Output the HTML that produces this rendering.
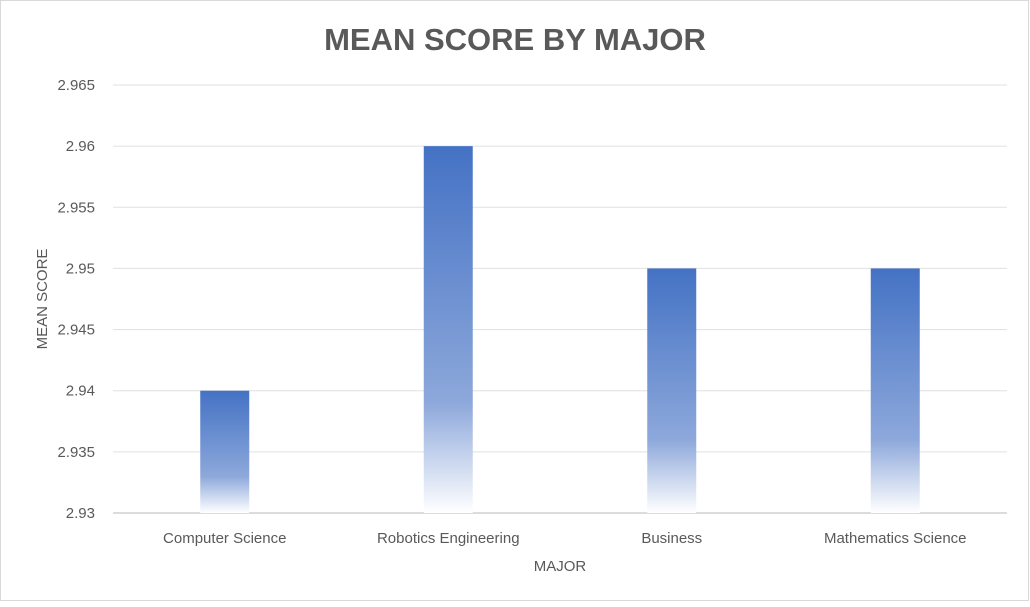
<!DOCTYPE html>
<html><head><meta charset="utf-8"><style>
html,body{margin:0;padding:0;background:#fff;}
body{width:1030px;height:602px;overflow:hidden;font-family:"Liberation Sans",sans-serif;}
</style></head><body>
<svg width="1030" height="602" xmlns="http://www.w3.org/2000/svg">
<defs>
<linearGradient id="g" x1="0" y1="0" x2="0" y2="1">
<stop offset="0" stop-color="#4472C4"/>
<stop offset="0.7" stop-color="#8DA8DB"/>
<stop offset="1" stop-color="#FFFFFF"/>
</linearGradient>
</defs>
<rect x="0.5" y="0.5" width="1028" height="600" fill="#fff" stroke="#d9d9d9"/>
<text x="515" y="50" text-anchor="middle" font-size="31" font-weight="bold" fill="#595959">MEAN SCORE BY MAJOR</text>
<g id="grid"></g>
<g id="bars"></g>
<g id="labels"></g>
<text x="47" y="299" text-anchor="middle" font-size="15" fill="#595959" transform="rotate(-90 47 299)">MEAN SCORE</text>
<text x="560" y="571" text-anchor="middle" font-size="15" fill="#595959">MAJOR</text>
</svg>
<script>
const categories=["Computer Science","Robotics Engineering","Business","Mathematics Science"];
const values=[2.94,2.96,2.95,2.95];
const ticks=[2.93,2.935,2.94,2.945,2.95,2.955,2.96,2.965];
const tickLabels=["2.93","2.935","2.94","2.945","2.95","2.955","2.96","2.965"];
const NS="http://www.w3.org/2000/svg";
const x0=113,x1=1007,yTop=85,yBot=513,vMin=2.93,vMax=2.965;
const y=v=>yBot-(v-vMin)/(vMax-vMin)*(yBot-yTop);
const bw=(x1-x0)/categories.length;
const xc=i=>x0+bw*(i+0.5);
const grid=document.getElementById('grid'),bars=document.getElementById('bars'),labels=document.getElementById('labels');
ticks.forEach((t,i)=>{
 const l=document.createElementNS(NS,'line');
 l.setAttribute('x1',x0);l.setAttribute('x2',x1);l.setAttribute('y1',y(t));l.setAttribute('y2',y(t));
 l.setAttribute('stroke',i===0?'#d0d0d0':'#e0e0e0');l.setAttribute('stroke-width',i===0?1.5:1);
 
 
 grid.appendChild(l);
 const tx=document.createElementNS(NS,'text');
 tx.setAttribute('x',95);tx.setAttribute('y',y(t)+5);tx.setAttribute('text-anchor','end');
 tx.setAttribute('font-size','15');tx.setAttribute('fill','#595959');tx.textContent=tickLabels[i];
 
 
 labels.appendChild(tx);
});
values.forEach((v,i)=>{
 const r=document.createElementNS(NS,'rect');
 r.setAttribute('x',xc(i)-24.5);r.setAttribute('width',49);
 r.setAttribute('y',y(v));r.setAttribute('height',yBot-y(v));r.setAttribute('fill','url(#g)');
 
 
 bars.appendChild(r);
 const tx=document.createElementNS(NS,'text');
 tx.setAttribute('x',xc(i));tx.setAttribute('y',543);tx.setAttribute('text-anchor','middle');
 tx.setAttribute('font-size','15');tx.setAttribute('fill','#595959');tx.textContent=categories[i];
 
 
 labels.appendChild(tx);
});
</script>
</body></html>
